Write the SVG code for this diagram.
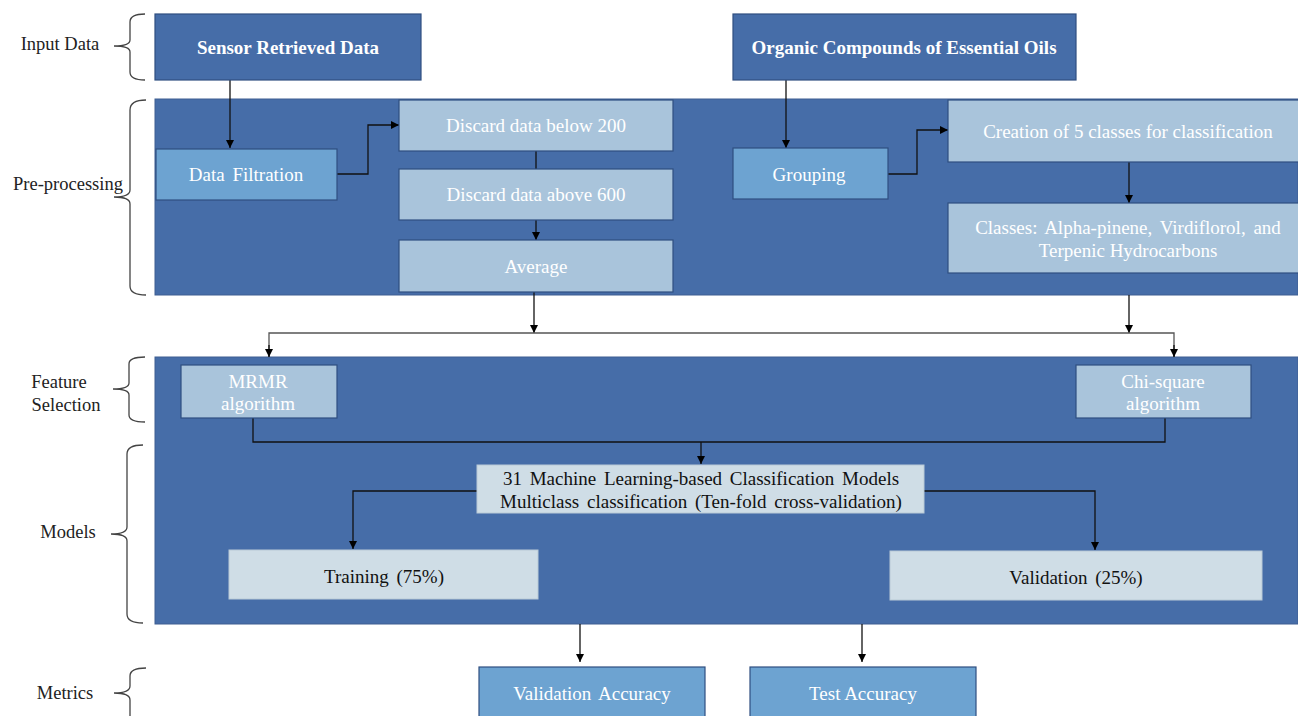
<svg xmlns="http://www.w3.org/2000/svg" width="1298" height="716" viewBox="0 0 1298 716">
<defs>
<marker id="ah" viewBox="0 0 10 10" refX="10" refY="5" markerWidth="8" markerHeight="8" markerUnits="userSpaceOnUse" orient="auto"><path d="M0,0 L10,5 L0,10 z" fill="#000"/></marker>
<style>
text{font-family:"Liberation Serif","Times New Roman",serif;text-anchor:middle;}
.lbl{font-size:18.5px;fill:#222;}
.brace{fill:none;stroke:#444;stroke-width:1.3;}
.panel{fill:#466DA8;stroke:#3E5F92;stroke-width:1;}
.dark{fill:#466DA8;stroke:#2F4F80;stroke-width:1.2;}
.mid{fill:#6DA3D1;stroke:#2F4F80;stroke-width:1.2;}
.light{fill:#A9C4DB;stroke:#2F4F80;stroke-width:1.2;}
.pale{fill:#CFDDE6;stroke:#B9CAD6;stroke-width:1;}
.wt{fill:#fff;font-size:19px;}
.wb{fill:#fff;font-size:19px;font-weight:bold;}
.bt{fill:#111;font-size:19px;}
.ws{word-spacing:3px;}
.conn{fill:none;stroke:#111;stroke-width:1.3;}
.connw{fill:none;stroke:#555;stroke-width:1.3;}
</style>
</defs>

<g id="stage-labels">
<text class="lbl" x="60" y="50">Input Data</text>
<path class="brace" d="M145,14 Q130,14 130,22 L130,40 Q130,46 114,46 Q130,46 130,52 L130,72 Q130,80 145,80"/>
<text class="lbl" x="68" y="190">Pre-processing</text>
<path class="brace" d="M146,100 Q130,100 130,110 L130,190 Q130,197 114,197 Q130,197 130,204 L130,286 Q130,295 146,295"/>
<text class="lbl" x="59" y="388">Feature</text>
<text class="lbl" x="66" y="411">Selection</text>
<path class="brace" d="M145,357 Q129,357 129,364 L129,383 Q129,389 113,389 Q129,389 129,395 L129,415 Q129,422 145,422"/>
<text class="lbl" x="68" y="538">Models</text>
<path class="brace" d="M143,445 Q127,445 127,454 L127,527 Q127,534 111,534 Q127,534 127,541 L127,614 Q127,623 143,623"/>
<text class="lbl" x="65" y="699">Metrics</text>
<path class="brace" d="M146,668 Q130,668 130,676 L130,686 Q130,693 114,693 Q130,693 130,700 L130,716"/>
</g>

<g id="panels">
<rect id="panel-pre" class="panel" x="155" y="99" width="1143" height="196"/>
<rect id="panel-fs-models" class="panel" x="155" y="357" width="1143" height="267"/>
</g>

<g id="connectors">
<path class="conn" d="M230,80 V148" marker-end="url(#ah)"/>
<path class="conn" d="M337,174 H368 V125 H399" marker-end="url(#ah)"/>
<path class="conn" d="M536,151 V169"/>
<path class="conn" d="M536,220 V240" marker-end="url(#ah)"/>
<path class="conn" d="M786,80 V148" marker-end="url(#ah)"/>
<path class="conn" d="M888,174 H917 V130 H948" marker-end="url(#ah)"/>
<path class="conn" d="M1129,162 V203" marker-end="url(#ah)"/>
<path class="conn" d="M534,292 V333" marker-end="url(#ah)"/>
<path class="conn" d="M1129,295 V333" marker-end="url(#ah)"/>
<path class="connw" d="M269,357 V333 H1174 V357"/>
<path class="conn" d="M269,345 V357" marker-end="url(#ah)"/>
<path class="conn" d="M1174,345 V357" marker-end="url(#ah)"/>
<path class="conn" d="M253,418 V442 H1165 V418"/>
<path class="conn" d="M701,442 V464" marker-end="url(#ah)"/>
<path class="conn" d="M477,491 H353 V549" marker-end="url(#ah)"/>
<path class="conn" d="M924,491 H1095 V550" marker-end="url(#ah)"/>
<path class="conn" d="M580,624 V662" marker-end="url(#ah)"/>
<path class="conn" d="M862,624 V662" marker-end="url(#ah)"/>
</g>

<g id="node-sensor">
<rect class="dark" x="155" y="14" width="266" height="66"/>
<text class="wb" x="288" y="54">Sensor Retrieved Data</text>
</g>
<g id="node-organic">
<rect class="dark" x="733" y="14" width="343" height="66"/>
<text class="wb" x="904" y="54">Organic Compounds of Essential Oils</text>
</g>
<g id="node-filtration">
<rect class="mid" x="156" y="149" width="181" height="51"/>
<text class="wt ws" x="246" y="181">Data Filtration</text>
</g>
<g id="node-below200">
<rect class="light" x="399" y="100" width="274" height="51"/>
<text class="wt" x="536" y="132">Discard data below 200</text>
</g>
<g id="node-above600">
<rect class="light" x="399" y="169" width="274" height="51"/>
<text class="wt" x="536" y="201">Discard data above 600</text>
</g>
<g id="node-average">
<rect class="light" x="399" y="240" width="274" height="52"/>
<text class="wt" x="536" y="273">Average</text>
</g>
<g id="node-grouping">
<rect class="mid" x="733" y="148" width="155" height="51"/>
<text class="wt" x="809" y="181">Grouping</text>
</g>
<g id="node-creation">
<rect class="light" x="948" y="100" width="352" height="62"/>
<text class="wt" x="1128" y="138">Creation of 5 classes for classification</text>
</g>
<g id="node-classes">
<rect class="light" x="948" y="203" width="352" height="70"/>
<text class="wt ws" x="1128" y="234">Classes: Alpha-pinene,  Virdiflorol,  and</text>
<text class="wt" x="1128" y="257">Terpenic Hydrocarbons</text>
</g>
<g id="node-mrmr">
<rect class="light" x="181" y="365" width="156" height="53"/>
<text class="wt" x="258" y="388">MRMR</text>
<text class="wt" x="258" y="410">algorithm</text>
</g>
<g id="node-chisquare">
<rect class="light" x="1076" y="365" width="175" height="53"/>
<text class="wt" x="1163" y="388">Chi-square</text>
<text class="wt" x="1163" y="410">algorithm</text>
</g>
<g id="node-models">
<rect class="pale" x="477" y="465" width="447" height="48"/>
<text class="bt ws" x="701" y="485">31 Machine  Learning-based  Classification  Models</text>
<text class="bt ws" x="701" y="508">Multiclass  classification  (Ten-fold cross-validation)</text>
</g>
<g id="node-training">
<rect class="pale" x="229" y="550" width="309" height="49"/>
<text class="bt ws" x="384" y="583">Training  (75%)</text>
</g>
<g id="node-validation">
<rect class="pale" x="890" y="551" width="372" height="49"/>
<text class="bt ws" x="1076" y="584">Validation  (25%)</text>
</g>
<g id="node-val-acc">
<rect class="mid" x="479" y="667" width="226" height="60"/>
<text class="wt ws" x="592" y="700">Validation  Accuracy</text>
</g>
<g id="node-test-acc">
<rect class="mid" x="750" y="667" width="226" height="60"/>
<text class="wt" x="863" y="700">Test Accuracy</text>
</g>
</svg>
